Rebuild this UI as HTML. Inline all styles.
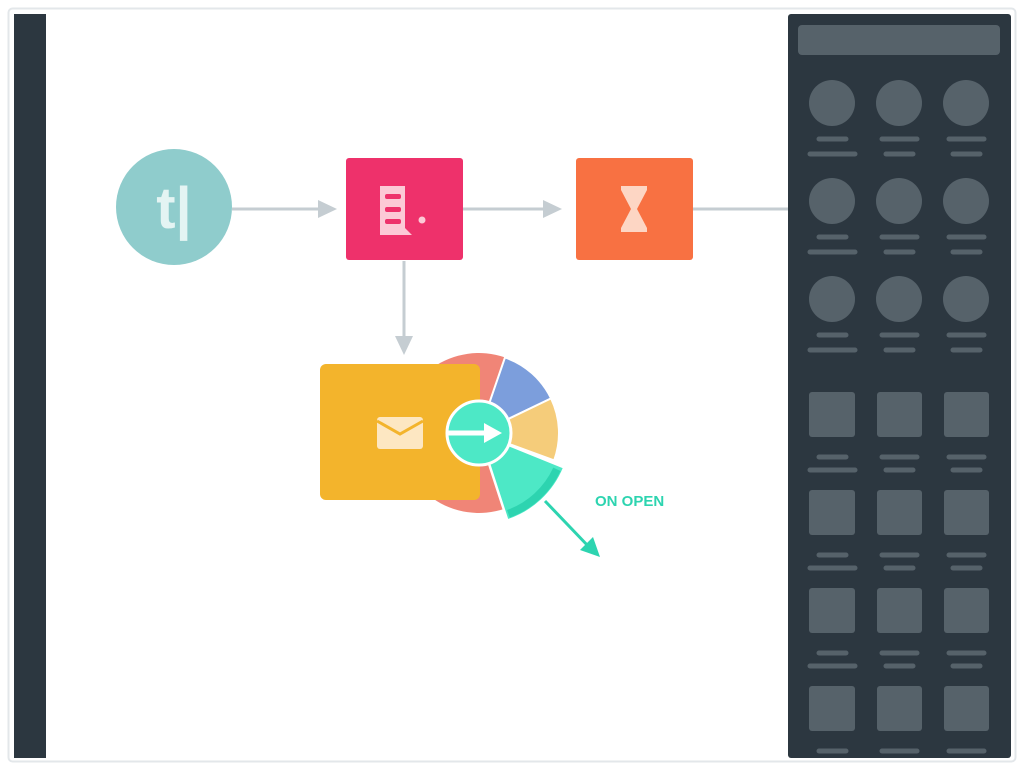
<!DOCTYPE html>
<html><head><style>
body{margin:0;width:1024px;height:768px;background:#fff;overflow:hidden;font-family:"Liberation Sans",sans-serif}
</style></head><body>
<svg width="1024" height="768" viewBox="0 0 1024 768" xmlns="http://www.w3.org/2000/svg">
<rect x="8.5" y="8.5" width="1007" height="753" rx="4" fill="#fff" stroke="#e3e7ea" stroke-width="2"/>
<rect x="14" y="14" width="32" height="744" fill="#2c3740"/>
<rect x="788" y="14" width="223" height="744" rx="3" fill="#2c3740"/>
<rect x="798" y="25" width="202" height="30" rx="4" fill="#56626a"/>
<g fill="#56626a">
<circle cx="832" cy="103" r="23"/><circle cx="899" cy="103" r="23"/><circle cx="966" cy="103" r="23"/>
<circle cx="832" cy="201" r="23"/><circle cx="899" cy="201" r="23"/><circle cx="966" cy="201" r="23"/>
<circle cx="832" cy="299" r="23"/><circle cx="899" cy="299" r="23"/><circle cx="966" cy="299" r="23"/>
<rect x="809" y="392" width="46" height="45" rx="3"/><rect x="877" y="392" width="45" height="45" rx="3"/><rect x="944" y="392" width="45" height="45" rx="3"/>
<rect x="809" y="490" width="46" height="45" rx="3"/><rect x="877" y="490" width="45" height="45" rx="3"/><rect x="944" y="490" width="45" height="45" rx="3"/>
<rect x="809" y="588" width="46" height="45" rx="3"/><rect x="877" y="588" width="45" height="45" rx="3"/><rect x="944" y="588" width="45" height="45" rx="3"/>
<rect x="809" y="686" width="46" height="45" rx="3"/><rect x="877" y="686" width="45" height="45" rx="3"/><rect x="944" y="686" width="45" height="45" rx="3"/>
</g>
<g stroke="#56626a" stroke-width="5" stroke-linecap="round">
<path d="M819 139H846M810 154H855M882 139H917M886 154H913M949 139H984M953 154H980"/>
<path d="M819 237H846M810 252H855M882 237H917M886 252H913M949 237H984M953 252H980"/>
<path d="M819 335H846M810 350H855M882 335H917M886 350H913M949 335H984M953 350H980"/>
<path d="M819 457H846M810 470H855M882 457H917M886 470H913M949 457H984M953 470H980"/>
<path d="M819 555H846M810 568H855M882 555H917M886 568H913M949 555H984M953 568H980"/>
<path d="M819 653H846M810 666H855M882 653H917M886 666H913M949 653H984M953 666H980"/>
<path d="M819 751H846M882 751H917M949 751H984"/>
</g>
<g stroke="#c5cdd2" stroke-width="3" fill="none">
<path d="M232 209H320M463 209H545M693 209H788M404 261V338"/>
</g>
<g fill="#c5cdd2">
<path d="M318 200L337 209L318 218Z"/><path d="M543 200L562 209L543 218Z"/><path d="M395 336L404 355L413 336Z"/>
</g>
<circle cx="174" cy="207" r="58" fill="#8fcccc"/>
<text x="174" y="228" text-anchor="middle" font-size="58" font-weight="bold" fill="#e4f4f3">t|</text>
<rect x="346" y="158" width="117" height="102" rx="3" fill="#ee316b"/>
<path d="M380 186H405V228L412 235H380Z" fill="#fcc9d6"/>
<rect x="385" y="194" width="16" height="5" rx="2" fill="#ee316b"/>
<rect x="385" y="207" width="16" height="5" rx="2" fill="#ee316b"/>
<rect x="385" y="219" width="16" height="5" rx="2" fill="#ee316b"/>
<circle cx="422" cy="220" r="3.5" fill="#fcc9d6"/>
<rect x="576" y="158" width="117" height="102" rx="3" fill="#f87142"/>
<path d="M621 186H647V190L637 209L647 228V232H621V228L631 209L621 190Z" fill="#fdd6c4"/>
<path d="M479 433L505 508.6A80 80 0 1 1 505 357.4Z" fill="#f08577"/>
<path d="M479 433L505 357.4A80 80 0 0 1 551.1 398.4Z" fill="#7c9edc" stroke="#fff" stroke-width="2"/>
<path d="M479 433L551.1 398.4A80 80 0 0 1 554.2 460.4Z" fill="#f5cc7a" stroke="#fff" stroke-width="2"/>
<rect x="320" y="364" width="160" height="136" rx="6" fill="#f3b42c"/>
<rect x="377" y="417" width="46" height="32" rx="3" fill="#fde7c2"/>
<path d="M377 421L400 434L423 421" stroke="#f3b42c" stroke-width="3" fill="none"/>
<path d="M508.7 445L564.3 467.5A92 92 0 0 1 507.4 520.5L488.9 463.4A32 32 0 0 0 508.7 445Z" fill="#4de8c6" stroke="#fff" stroke-width="2.5"/>
<path d="M556.9 469.3A85 85 0 0 1 508.4 513.8" stroke="#2dd4b0" stroke-width="8" fill="none"/>
<circle cx="479" cy="433" r="32" fill="#4de8c6" stroke="#fff" stroke-width="3"/>
<path d="M448 433H488" stroke="#fff" stroke-width="5"/>
<path d="M484 423L502 433L484 443Z" fill="#fff"/>
<path d="M545 501L590 548" stroke="#2dd4b0" stroke-width="3"/>
<path d="M580 550L600 557L593 537Z" fill="#2dd4b0"/>
<text x="595" y="506" font-size="15" font-weight="bold" fill="#2dd4b0">ON OPEN</text>
</svg>
</body></html>
